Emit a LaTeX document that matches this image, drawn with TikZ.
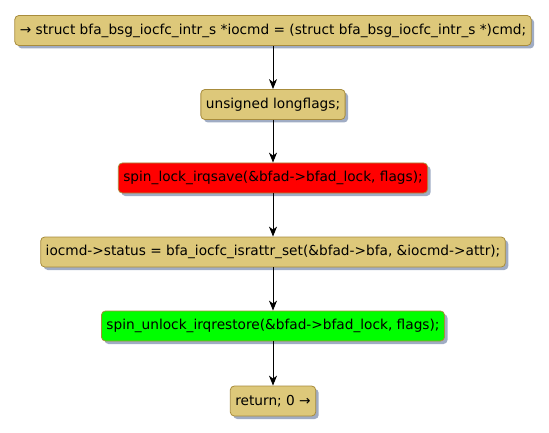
\documentclass[tikz,border=0pt]{standalone}
\usepackage{fontspec}
\setmainfont{DejaVu Sans}
\usetikzlibrary{arrows.meta,shadows}
\definecolor{actfill}{RGB}{221,200,122}
\definecolor{actborder}{RGB}{168,140,60}
\definecolor{shadowc}{RGB}{160,172,196}
\definecolor{redfill}{RGB}{255,0,0}
\definecolor{greenfill}{RGB}{0,255,0}
\tikzset{
  act/.style={draw=actborder, line width=0.8pt, fill=actfill, rounded corners=4pt,
    minimum height=30pt, inner xsep=5pt, inner ysep=0pt, font=\fontsize{13.7pt}{16pt}\selectfont,
    drop shadow={shadow xshift=3pt, shadow yshift=-3pt, fill=shadowc, opacity=1}},
  flow/.style={draw=black, line width=1pt, -{Stealth[length=10pt,width=8pt,inset=3pt]}}
}
\begin{document}
\begin{tikzpicture}[x=1pt,y=-1pt]
\useasboundingbox (0,0) rectangle (549,433);
\node[act] (n1) at (273,30.5) {→ struct bfa\_bsg\_iocfc\_intr\_s *iocmd = (struct bfa\_bsg\_iocfc\_intr\_s *)cmd;};
\node[act] (n2) at (273,104.5) {unsigned longflags;};
\node[act, fill=redfill] (n3) at (273,178) {spin\_lock\_irqsave(\&bfad->bfad\_lock, flags);};
\node[act] (n4) at (273,252) {iocmd->status = bfa\_iocfc\_israttr\_set(\&bfad->bfa, \&iocmd->attr);};
\node[act, fill=greenfill] (n5) at (273,326) {spin\_unlock\_irqrestore(\&bfad->bfad\_lock, flags);};
\node[act] (n6) at (273,401) {return; 0 →};
\draw[flow] (n1) -- (n2);
\draw[flow] (n2) -- (n3);
\draw[flow] (n3) -- (n4);
\draw[flow] (n4) -- (n5);
\draw[flow] (n5) -- (n6);
\end{tikzpicture}
\end{document}
